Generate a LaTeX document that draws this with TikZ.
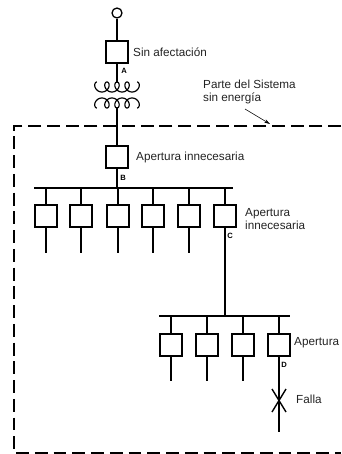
\documentclass[tikz,border=0pt]{standalone}
\usepackage{fontspec}
\setmainfont{Liberation Sans}
\usepackage{xcolor}
\usepackage{tikz}
\usetikzlibrary{calc}
\usetikzlibrary{arrows.meta}
\definecolor{InkGrey}{RGB}{35,35,35}
\tikzset{
	breaker/.style={draw=black, line width=1.9pt, minimum size=0.68cm, inner sep=0pt, rectangle},
	feeder/.style={line width=1.5pt, black},
	busbar/.style={line width=1.7pt, black},
	winding/.style={line width=1pt, black},
	zoneline/.style={line width=1.8pt, black, dash pattern=on 11pt off 5pt},
	legend/.style={right, inner sep=0pt, font=\fontsize{10}{11.8}\selectfont, text=InkGrey, align=left},
	tagmark/.style={inner sep=0pt, font=\fontsize{6.5}{7}\selectfont\bfseries}
}
\newcommand{\feederShape}[5]{%
		\node [breaker] (#1) at (#2,#3) {};
		\coordinate (#1end) at (#2,#4);
		\draw [feeder] (#1) -- (#1end);
		\draw [feeder] (#1) -- (#1 |- #5);
}
\newcommand{\windingShape}[2]{%
		\draw [winding] plot [smooth, samples=120, domain=-12.57:12.57, variable=\t]
			({117+1.6*\t-4.4*sin(\t r)},{#1+#2*cos(\t r)});
}
\begin{document}
\begin{tikzpicture}[x=0.03cm, y=-0.03cm]
		\useasboundingbox (0,0) rectangle (342,454);
		
		\draw [zoneline] (341,126) -- (14,126) -- (14,453) -- (341,453);
		
		\node [circle, draw, line width=1.1pt, minimum size=0.3cm, inner sep=0pt] (source) at (117,13) {};
		\node [breaker] (brkA) at (117,52) {};
		\node [breaker] (brkB) at (117,157) {};
		\coordinate (coilup) at (117,83);
		\coordinate (coildown) at (117,107);
		
		\draw [feeder] (source) -- (brkA);
		\draw [feeder] (brkA) -- (coilup);
		\draw [line width=1.1pt] (coildown) -- (brkB);
		
		\windingShape{87}{-5} %primary
		\windingShape{103}{5} %secondary
		
		\coordinate (busB) at (34,188);
		\coordinate (busBend) at (233,188);
		\draw [busbar] (busB) -- (busBend);
		\draw [feeder] (brkB) -- (brkB |- busB);
		
		\feederShape{fa}{46}{216}{253}{busB}
		\feederShape{fb}{81}{216}{253}{busB}
		\feederShape{fc}{118}{216}{253}{busB}
		\feederShape{fd}{153}{216}{253}{busB}
		\feederShape{fe}{189}{216}{253}{busB}
		\feederShape{brkC}{225}{216}{316}{busB}
		
		\coordinate (busC) at (159,316);
		\coordinate (busCend) at (290,316);
		\draw [busbar] (busC) -- (busCend);
		
		\feederShape{ga}{171}{345}{381}{busC}
		\feederShape{gb}{207}{345}{381}{busC}
		\feederShape{gc}{243}{345}{381}{busC}
		\feederShape{brkD}{279}{345}{432}{busC}
		
		\coordinate (faultA) at (272,389);
		\coordinate (faultB) at (286,412);
		\coordinate (faultC) at (286,389);
		\coordinate (faultD) at (272,412);
		\draw [line width=1.2pt] (faultA) -- (faultB);
		\draw [line width=1.2pt] (faultC) -- (faultD);
		
		\node [legend] (lblA) at (133,52) {Sin afectación};
		\node [legend] (lblZone) at (203,92) {Parte del Sistema\\sin energía};
		\node [legend] (lblB) at (136,157) {Apertura innecesaria};
		\node [legend] (lblC) at (245,219) {Apertura\\innecesaria};
		\node [legend] (lblD) at (294,343) {Apertura};
		\node [legend] (lblFault) at (296,399) {Falla};
		
		\node [tagmark] (tagA) at (124,71) {A};
		\node [tagmark] (tagB) at (123,178) {B};
		\node [tagmark] (tagC) at (230,236) {C};
		\node [tagmark] (tagD) at (284,365) {D};
		
		\coordinate (zonestart) at (245,109);
		\coordinate (zonetip) at (270,124);
		\draw [line width=0.5pt, -{Stealth[length=5pt, width=3pt]}] (zonestart) -- (zonetip);
	\end{tikzpicture}
\end{document}
